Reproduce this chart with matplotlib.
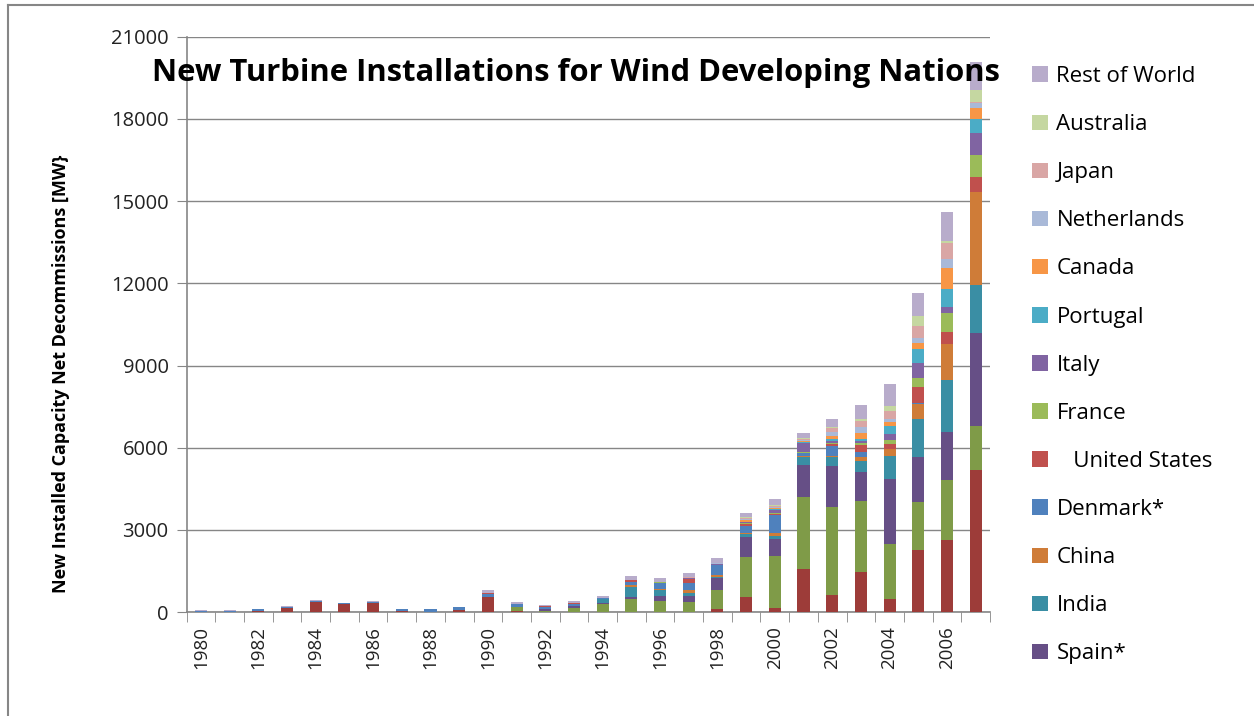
import numpy as np
import matplotlib
matplotlib.use("Agg")
import matplotlib.pyplot as plt
from matplotlib.lines import Line2D
from matplotlib.patches import Patch

years = list(range(1980, 2008))

# stacked bottom -> top, values in MW
us_base = [0, 0, 61, 158, 377, 304, 353, 61, 20, 85, 572, 61, 0, 0, 0, 0, 0, 0,
           105, 567, 141, 1565, 628, 1455, 470, 2270, 2635, 5190]
germany = [0, 0, 0, 0, 0, 0, 0, 0, 0, 0, 0, 122, 61, 170, 304, 475, 426, 384,
           705, 1460, 1910, 2652, 3224, 2616, 2019, 1764, 2190, 1606]
spain = [0, 0, 0, 0, 0, 0, 0, 0, 0, 0, 0, 0, 49, 40, 49, 97, 170, 219,
         426, 730, 609, 1156, 1484, 1034, 2373, 1631, 1764, 3407]
india = [0, 0, 0, 0, 0, 0, 0, 0, 0, 0, 0, 0, 0, 0, 122, 365, 219, 110,
         61, 97, 133, 280, 317, 426, 851, 1399, 1886, 1740]
china = [0, 0, 0, 0, 0, 0, 0, 0, 0, 0, 0, 0, 0, 0, 0, 61, 24, 97,
         61, 49, 86, 30, 48, 122, 232, 535, 1314, 3382]
denmark = [55, 55, 49, 37, 49, 37, 37, 49, 90, 97, 85, 110, 85, 73, 61, 122, 243, 268,
           365, 255, 669, 116, 380, 206, 10, 20, 10, 5]
united_states = [0, 0, 0, 0, 0, 0, 0, 0, 0, 0, 49, 0, 37, 50, 0, 37, 0, 122,
                 15, 49, 50, 10, 60, 244, 184, 589, 414, 535]
france = [0, 0, 0, 0, 0, 0, 0, 0, 0, 0, 0, 0, 0, 0, 0, 0, 37, 0,
          0, 30, 40, 20, 50, 85, 146, 352, 706, 828]
italy = [0, 0, 0, 0, 0, 0, 0, 0, 0, 0, 0, 0, 0, 20, 0, 0, 0, 30,
         20, 60, 85, 335, 70, 73, 219, 524, 219, 791]
portugal = [0, 0, 0, 0, 0, 0, 0, 0, 0, 0, 0, 0, 0, 0, 0, 0, 0, 0,
            0, 10, 50, 40, 70, 61, 304, 511, 657, 511]
canada = [0, 0, 0, 0, 0, 0, 0, 0, 0, 0, 0, 0, 0, 0, 0, 0, 0, 0,
          10, 61, 40, 50, 100, 207, 122, 243, 766, 401]
netherlands = [0, 0, 0, 0, 0, 0, 0, 0, 0, 0, 0, 0, 0, 0, 0, 0, 0, 20,
               20, 30, 40, 40, 158, 219, 110, 158, 329, 183]
japan = [0, 0, 0, 0, 0, 0, 0, 0, 0, 0, 0, 0, 0, 0, 0, 0, 0, 23,
         20, 40, 40, 40, 122, 231, 316, 450, 584, 20]
australia = [0, 0, 0, 0, 0, 0, 0, 0, 0, 0, 0, 0, 0, 0, 0, 0, 0, 0,
             0, 27, 20, 36, 61, 61, 182, 377, 60, 450]
rest_of_world = [20, 15, 12, 24, 24, 0, 12, 0, 12, 25, 110, 61, 24, 49, 73, 146, 122, 146,
                 158, 144, 207, 183, 268, 523, 791, 816, 1059, 1046]

series = [
    ("US (base)", us_base, "#9D3C39"),
    ("Germany", germany, "#7F9B48"),
    ("Spain*", spain, "#664F86"),
    ("India", india, "#3A8EA4"),
    ("China", china, "#CF7C38"),
    ("Denmark*", denmark, "#4F81BD"),
    ("   United States", united_states, "#C0504D"),
    ("France", france, "#9BBB59"),
    ("Italy", italy, "#8064A2"),
    ("Portugal", portugal, "#4BACC6"),
    ("Canada", canada, "#F79646"),
    ("Netherlands", netherlands, "#A9B9D8"),
    ("Japan", japan, "#D9A6A5"),
    ("Australia", australia, "#C5D7A1"),
    ("Rest of World", rest_of_world, "#B8ACCB"),
]
legend_names = ["Rest of World", "Australia", "Japan", "Netherlands", "Canada", "Portugal",
                "Italy", "France", "   United States", "Denmark*", "China", "India", "Spain*"]

plt.rcParams['font.family'] = ['Open Sans', 'DejaVu Sans']

fig = plt.figure(figsize=(12.54, 7.16), dpi=100)
ax = fig.add_axes([186.6 / 1254, 1 - 612.2 / 716, (990 - 186.6) / 1254, (612.2 - 36.7) / 716])

x = np.arange(len(years))
bottom = np.zeros(len(years))
handles = {}
for name, vals, col in series:
    v = np.array(vals, dtype=float)
    ax.bar(x, v, width=0.42, bottom=bottom, color=col, linewidth=0, zorder=3)
    bottom += v
    handles[name] = Patch(facecolor=col, edgecolor='none')

ax.set_xlim(-0.5, len(years) - 0.5)
ax.set_ylim(0, 21000)
ax.set_yticks(np.arange(0, 21001, 3000))
ax.tick_params(axis='y', length=7, color='#868686', labelsize=14.5, pad=6,
               labelcolor='#222222')
ax.yaxis.grid(True, color='#868686', linewidth=1, zorder=0)

ax.set_xticks(x[::2])
ax.set_xticklabels([str(y) for y in years[::2]], rotation=90, fontsize=13.5, color='#222222')
ax.set_xticks(np.arange(-0.5, len(years), 1), minor=True)
ax.tick_params(axis='x', which='major', length=0, pad=10)
ax.tick_params(axis='x', which='minor', length=7, color='#868686')

for s in ['top', 'right']:
    ax.spines[s].set_visible(False)
for s in ['left', 'bottom']:
    ax.spines[s].set_color('#868686')
    ax.spines[s].set_linewidth(1.2)

ax.set_ylabel("New Installed Capacity Net Decommissions [MW}", fontsize=13,
              fontweight='bold')
ax.yaxis.set_label_coords((70 - 186.6) / 803.4, (612.2 - 374) / 575.5)

fig.text(152 / 1254, 1 - 73 / 716, "New Turbine Installations for Wind Developing Nations",
         fontsize=22.3, fontweight='bold', va='center', ha='left')

leg = fig.legend([handles[n] for n in legend_names], legend_names,
                 loc='upper left', bbox_to_anchor=(1012 / 1254, 1 - 46 / 716),
                 frameon=False, fontsize=16, handlelength=0.7, handleheight=0.7,
                 handletextpad=0.4, labelspacing=1.22)

# chart area border (left and top visible)
fig.add_artist(Line2D([8 / 1254, 8 / 1254], [0, 1 - 5 / 716], color='#868686', linewidth=1.5))
fig.add_artist(Line2D([8 / 1254, 1], [1 - 5 / 716, 1 - 5 / 716], color='#868686', linewidth=1.5))

fig.savefig("out.png", dpi=100)
